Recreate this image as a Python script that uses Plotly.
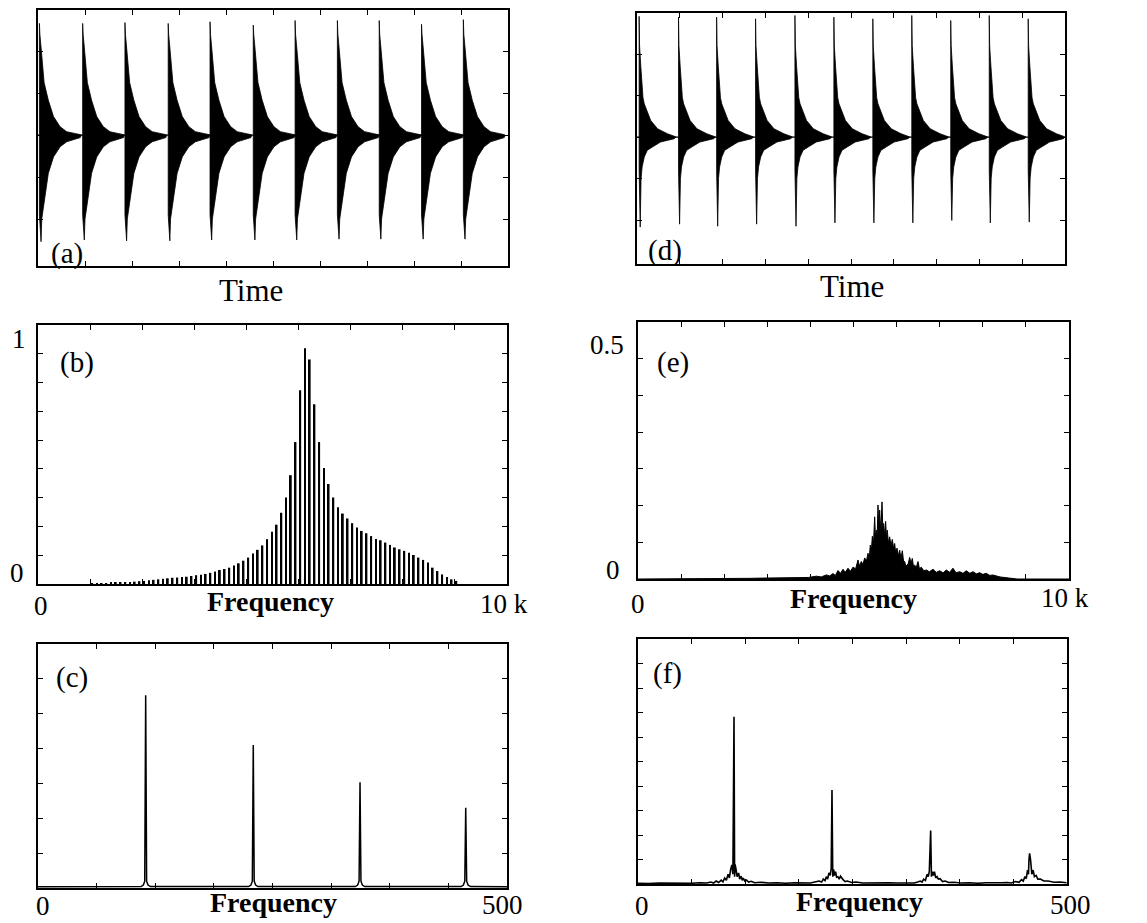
import plotly.graph_objects as go

W, H = 1147, 923

# ---------------- data ----------------
# (a) time signal: burst onsets, peak amplitudes, decay envelope
a_burst_t = [0.03, 0.95, 1.85, 2.77, 3.66, 4.58, 5.47, 6.37, 7.26, 8.16, 9.05]
a_peak_up = [2.66, 2.66, 2.68, 2.66, 2.70, 2.62, 2.73, 2.73, 2.73, 2.64, 2.75]
a_peak_dn = [-2.54, -2.50, -2.52, -2.52, -2.50, -2.50, -2.50, -2.48, -2.48, -2.48, -2.48]
a_env_up_dt = [0, 0.01, 0.028, 0.057, 0.10, 0.19, 0.30, 0.44, 0.58, 0.87]
a_env_up = [None, 2.4, 2.18, 1.7, 1.25, 0.83, 0.44, 0.2, 0.08, 0.01]
a_env_dn_dt = [0, 0.035, 0.05, 0.10, 0.19, 0.30, 0.44, 0.58, 0.87]
a_env_dn = [-1.9, None, -2.0, -1.55, -0.91, -0.52, -0.28, -0.16, -0.06]

# (d) time signal
d_burst_t = [0.05, 0.97, 1.86, 2.77, 3.69, 4.60, 5.51, 6.42, 7.33, 8.23, 9.14]
d_peak_up = [2.91, 2.89, 2.89, 2.85, 2.93, 2.89, 2.85, 2.93, 2.81, 2.93, 2.85]
d_peak_dn = [-2.17, -2.10, -2.15, -2.10, -2.15, -2.07, -2.07, -2.07, -2.01, -2.07, -2.05]
d_env_up_dt = [0, 0.01, 0.04, 0.09, 0.12, 0.27, 0.43, 0.66, 0.82]
d_env_up = [None, 2.2, 1.69, 0.95, 0.8, 0.40, 0.2, 0.08, 0.02]
d_env_dn_dt = [0, 0.025, 0.045, 0.07, 0.12, 0.19, 0.31, 0.5, 0.82]
d_env_dn = [-0.8, None, -1.0, -0.72, -0.48, -0.32, -0.24, -0.12, -0.04]

# (b) line spectrum (Hz, relative amplitude)
b_freq = [1155, 1256, 1357, 1457, 1558, 1659, 1760, 1861, 1962, 2062, 2163, 2264,
          2365, 2466, 2567, 2668, 2768, 2869, 2970, 3071, 3172, 3273, 3374, 3474,
          3575, 3676, 3777, 3878, 3979, 4079, 4180, 4281, 4382, 4483, 4584, 4685,
          4785, 4886, 4987, 5088, 5189, 5290, 5391, 5491, 5592, 5693, 5794, 5895,
          5996, 6096, 6197, 6298, 6399, 6500, 6601, 6702, 6802, 6903, 7004, 7105,
          7206, 7307, 7408, 7508, 7609, 7710, 7811, 7912, 8013, 8113, 8214, 8315,
          8416, 8517, 8618, 8719, 8819, 8920]
b_amp = [0.002, 0.002, 0.003, 0.003, 0.004, 0.005, 0.006, 0.007, 0.008, 0.009, 0.011, 0.012,
         0.014, 0.016, 0.018, 0.020, 0.022, 0.024, 0.025, 0.027, 0.028, 0.031, 0.034, 0.036,
         0.039, 0.043, 0.048, 0.054, 0.058, 0.063, 0.071, 0.080, 0.090, 0.102, 0.118, 0.132,
         0.149, 0.173, 0.202, 0.229, 0.275, 0.334, 0.420, 0.548, 0.748, 0.910, 0.867, 0.694,
         0.548, 0.448, 0.386, 0.334, 0.296, 0.272, 0.253, 0.235, 0.218, 0.205, 0.196, 0.185,
         0.174, 0.169, 0.160, 0.151, 0.141, 0.134, 0.128, 0.121, 0.112, 0.102, 0.093, 0.083,
         0.063, 0.050, 0.037, 0.027, 0.018, 0.012]

# (c) low-frequency spectrum: peaks
c_peak_f = [114.8, 229.5, 343.3, 456.0]
c_peak_h = [0.79, 0.586, 0.433, 0.329]
c_line_dx = [-5, -2.5, -1, 0, 1, 2.5, 5]
c_line_v = [0.006, 0.012, 0.028, None, 0.028, 0.012, 0.006]
c_base = 0.005

# (e) broadened spectrum
e_freq = [0, 1500, 2200, 2600, 3000, 3400, 3750, 3950, 4140, 4250, 4370, 4450, 4524,
          4580, 4640, 4700, 4756, 4810, 4872, 4930, 4988, 5050, 5104, 5140, 5181, 5220,
          5259, 5300, 5336, 5365, 5390, 5415, 5437, 5465, 5491, 5510, 5529, 5550, 5568,
          5588, 5607, 5635, 5661, 5680, 5700, 5720, 5746, 5765, 5784, 5810, 5839, 5870,
          5900, 5930, 5955, 5980, 6009, 6040, 6071, 6100, 6133, 6160, 6187, 6215, 6241,
          6270, 6303, 6335, 6364, 6390, 6419, 6455, 6496, 6530, 6573, 6630, 6689, 6760,
          6844, 6920, 6999, 7080, 7153, 7230, 7308, 7380, 7463, 7540, 7617, 7700, 7772,
          7850, 7926, 8000, 8081, 8160, 8236, 8400, 8600, 8800, 10000]
e_amp = [0, 0, 0.0006, 0.0013, 0.0019, 0.0026, 0.004, 0.003, 0.0055, 0.004, 0.008, 0.006,
         0.0105, 0.007, 0.0165, 0.011, 0.019, 0.013, 0.021, 0.015, 0.023, 0.02, 0.037,
         0.025, 0.034, 0.028, 0.041, 0.035, 0.05, 0.04, 0.066, 0.055, 0.083, 0.07, 0.121,
         0.08, 0.095, 0.085, 0.144, 0.1, 0.134, 0.09, 0.150, 0.1, 0.108, 0.085, 0.112,
         0.08, 0.095, 0.07, 0.082, 0.065, 0.077, 0.06, 0.069, 0.05, 0.06, 0.045, 0.056,
         0.04, 0.055, 0.035, 0.034, 0.025, 0.027, 0.03, 0.042, 0.03, 0.040, 0.025, 0.027,
         0.022, 0.034, 0.02, 0.023, 0.016, 0.0175, 0.014, 0.019, 0.013, 0.016, 0.012,
         0.0175, 0.013, 0.021, 0.012, 0.0143, 0.011, 0.016, 0.011, 0.0143, 0.01, 0.0123,
         0.009, 0.011, 0.007, 0.0078, 0.004, 0.002, 0, 0]

# (f) broadened low-frequency spectrum
f_freq = [0, 12, 25, 38, 50, 62, 72, 80, 85, 88, 91, 94, 97, 99, 101, 103, 105, 106.5,
          108, 109.4, 110.6, 111.9, 112.6, 113.2, 114.4, 115.5, 117.3, 118.5, 120.2,
          121.5, 122.7, 124.5, 126.3, 129, 131.9, 136, 143, 152, 162, 172, 182, 190,
          196, 201, 206, 211, 214, 216, 218, 219.5, 221, 222.5, 224, 225.2, 226.1, 227,
          228, 229, 230.3, 231.5, 233, 234.5, 236, 237.5, 239, 241.5, 244, 249, 254,
          262, 272, 282, 292, 302, 312, 318,
          322, 326, 329, 331, 333, 335, 337, 338.3, 339.5, 341.1, 342, 343.2, 344.3,
          345.5, 347, 348.5, 350, 352, 355, 358, 362, 368, 376, 386, 396, 406, 416, 424,
          430, 435, 440, 444, 447, 449, 451, 452.5, 454, 455.1, 455.7, 456.4, 457.5,
          459, 460.5, 462, 464, 466, 469, 473, 478, 485, 492, 499.5]
f_amp = [0.003, 0.002, 0.004, 0.003, 0.004, 0.003, 0.005, 0.004, 0.008, 0.004, 0.012,
         0.006, 0.016, 0.009, 0.024, 0.015, 0.04, 0.025, 0.06, 0.078, 0.04, 0.683, 0.03,
         0.08, 0.057, 0.03, 0.045, 0.02, 0.032, 0.015, 0.024, 0.012, 0.016, 0.008, 0.011,
         0.005, 0.007, 0.004, 0.005, 0.003, 0.005, 0.004,
         0.006, 0.004, 0.008, 0.012, 0.008, 0.02, 0.014, 0.03, 0.02, 0.045, 0.035, 0.064,
         0.384, 0.03, 0.06, 0.035, 0.05, 0.028, 0.03, 0.02, 0.032, 0.022, 0.018, 0.01,
         0.012, 0.006, 0.008, 0.004, 0.005, 0.003, 0.005, 0.004, 0.003, 0.005,
         0.004, 0.008, 0.012, 0.008, 0.02, 0.015, 0.04, 0.03, 0.05, 0.218, 0.03, 0.05,
         0.035, 0.05, 0.025, 0.03, 0.02, 0.022, 0.01, 0.012, 0.006, 0.007, 0.004, 0.005,
         0.003, 0.005, 0.004, 0.005,
         0.006, 0.004, 0.01, 0.007, 0.018, 0.012, 0.03, 0.022, 0.057, 0.04, 0.1, 0.125,
         0.1, 0.04, 0.057, 0.03, 0.035, 0.02, 0.02, 0.012, 0.012, 0.007, 0.008, 0.005,
         0.006, 0.005]

# tick labels / texts
lab_b_y = ["1", "0"]
lab_e_y = ["0.5", "0"]
lab_khz = ["0", "10 k"]
lab_500 = ["0", "500"]
panel_labels = ["(a)", "(b)", "(c)", "(d)", "(e)", "(f)"]

# ---------------- build figure ----------------
def burst_polys(t0s, pu, pd, up_dt, up_v, dn_dt, dn_v, tail):
    xs, ys = [], []
    for t0, u, d in zip(t0s, pu, pd):
        uv = [u] + list(up_v[1:])
        dv = [d if v is None else v for v in dn_v]
        px = [t0] + [t0 + dt for dt in up_dt] + [t0 + tail] + [t0 + dt for dt in reversed(dn_dt)] + [t0]
        py = [0] + uv + [0] + list(reversed(dv)) + [0]
        xs += px + [None]
        ys += py + [None]
    return xs, ys

fig = go.Figure()

ax, ay = burst_polys(a_burst_t, a_peak_up, a_peak_dn, a_env_up_dt, a_env_up,
                     a_env_dn_dt, a_env_dn, 0.89)
fig.add_trace(go.Scatter(x=ax, y=ay, fill="toself", fillcolor="black", mode="lines",
                         line=dict(color="black", width=0.8), xaxis="x", yaxis="y"))
fig.add_trace(go.Scatter(x=[0, 9.9], y=[0, 0], mode="lines",
                         line=dict(color="black", width=1.2), xaxis="x", yaxis="y"))

dx_, dy_ = burst_polys(d_burst_t, d_peak_up, d_peak_dn, d_env_up_dt, d_env_up,
                       d_env_dn_dt, d_env_dn, 0.86)
fig.add_trace(go.Scatter(x=dx_, y=dy_, fill="toself", fillcolor="black", mode="lines",
                         line=dict(color="black", width=0.8), xaxis="x4", yaxis="y4"))
fig.add_trace(go.Scatter(x=[0, 9.95], y=[0, 0], mode="lines",
                         line=dict(color="black", width=1.2), xaxis="x4", yaxis="y4"))

fig.add_trace(go.Bar(x=b_freq, y=b_amp, width=38, marker=dict(color="black", line=dict(width=0)),
                     xaxis="x2", yaxis="y2"))

cx, cy = [0], [c_base]
for f0, h in zip(c_peak_f, c_peak_h):
    for dxv, v in zip(c_line_dx, c_line_v):
        cx.append(f0 + dxv)
        cy.append(h if v is None else v)
cx.append(500)
cy.append(c_base)
fig.add_trace(go.Scatter(x=cx, y=cy, mode="lines", line=dict(color="black", width=1.5),
                         xaxis="x3", yaxis="y3"))

fig.add_trace(go.Scatter(x=e_freq, y=e_amp, mode="lines", fill="tozeroy", fillcolor="black",
                         line=dict(color="black", width=1.0), xaxis="x5", yaxis="y5"))

fig.add_trace(go.Scatter(x=f_freq, y=f_amp, mode="lines", line=dict(color="black", width=1.6),
                         xaxis="x6", yaxis="y6"))

# panel boxes in pixels: left, right, top, bottom
boxes = {
    "a": (38, 508, 10, 266),
    "b": (38, 507, 325, 584),
    "c": (38, 507, 644, 888),
    "d": (637, 1065, 13, 264),
    "e": (638, 1069, 322, 579),
    "f": (638, 1067, 639, 884),
}

def dom(b):
    l, r, t, bt = b
    return [l / W, r / W], [1 - bt / H, 1 - t / H]

def axstyle(**kw):
    d = dict(showline=True, linecolor="black", linewidth=1.6, mirror="ticks",
             ticks="inside", ticklen=5, tickwidth=1.2, tickcolor="black",
             showticklabels=False, showgrid=False, zeroline=False, fixedrange=True)
    d.update(kw)
    return d

layout = dict(width=W, height=H, margin=dict(l=0, r=0, t=0, b=0),
              paper_bgcolor="white", plot_bgcolor="white", showlegend=False)

names = ["a", "b", "c", "d", "e", "f"]
xr = {"a": [0, 10], "b": [0, 10000], "c": [0, 500], "d": [0, 10], "e": [0, 10000], "f": [0, 500]}
yr = {"a": [-3.12, 2.98], "b": [0, 1.0], "c": [0, 1.0], "d": [-3.06, 2.99],
      "e": [0, 0.5], "f": [0, 1.0]}
xt = {"a": [1, 2, 3, 4, 5, 6, 7, 8, 9],
      "b": [10000 * k / 9 for k in range(1, 9)],
      "c": [62.5 * k for k in range(1, 8)],
      "d": [1, 2, 3, 4, 5, 6, 7, 8, 9],
      "e": [1000 * k for k in range(1, 10)],
      "f": [62.5 * k for k in range(1, 8)]}
yt = {"a": [-2, -1, 0, 1, 2],
      "b": [k / 9 for k in range(1, 9)],
      "c": [k / 7 for k in range(1, 7)],
      "d": [-2, -1, 0, 1, 2],
      "e": [0.5 * k / 7 for k in range(1, 7)],
      "f": [0.1 * k for k in range(1, 10)]}

for i, n in enumerate(names):
    sfx = "" if i == 0 else str(i + 1)
    xd, yd = dom(boxes[n])
    layout["xaxis" + sfx] = axstyle(domain=xd, range=xr[n], tickvals=xt[n],
                                    anchor="y" + sfx)
    layout["yaxis" + sfx] = axstyle(domain=yd, range=yr[n], tickvals=yt[n],
                                    anchor="x" + sfx)

fig.update_layout(**layout)

SERIF = "Liberation Serif"

def ann(text, px, py, size=26, bold=False):
    t = "<b>%s</b>" % text if bold else text
    fig.add_annotation(text=t, x=px / W, y=1 - py / H, xref="paper", yref="paper",
                       showarrow=False, xanchor="center", yanchor="middle",
                       font=dict(family=SERIF, size=size, color="black"))

# panel labels
for lab, (px, py) in zip(panel_labels, [(67, 253), (77, 362), (72, 677),
                                         (665, 250), (673, 362), (667, 673)]):
    ann(lab, px, py, size=29)

# axis titles
ann("Time", 251, 291, size=31)
ann("Time", 852, 287, size=31)
ann("Frequency", 270, 601, size=28, bold=True)
ann("Frequency", 853, 598, size=28, bold=True)
ann("Frequency", 273, 902, size=28, bold=True)
ann("Frequency", 859, 901, size=28, bold=True)

# tick labels
ann(lab_b_y[0], 19, 339, size=27)
ann(lab_b_y[1], 17, 573, size=27)
ann(lab_khz[0], 41, 606, size=27)
ann(lab_khz[1], 504, 604, size=27)
ann(lab_e_y[0], 607, 345, size=27)
ann(lab_e_y[1], 613, 570, size=27)
ann(lab_khz[0], 638, 604, size=27)
ann(lab_khz[1], 1065, 598, size=27)
ann(lab_500[0], 43, 906, size=27)
ann(lab_500[1], 502, 905, size=27)
ann(lab_500[0], 642, 906, size=27)
ann(lab_500[1], 1070, 905, size=27)

fig.write_html("out.html")
